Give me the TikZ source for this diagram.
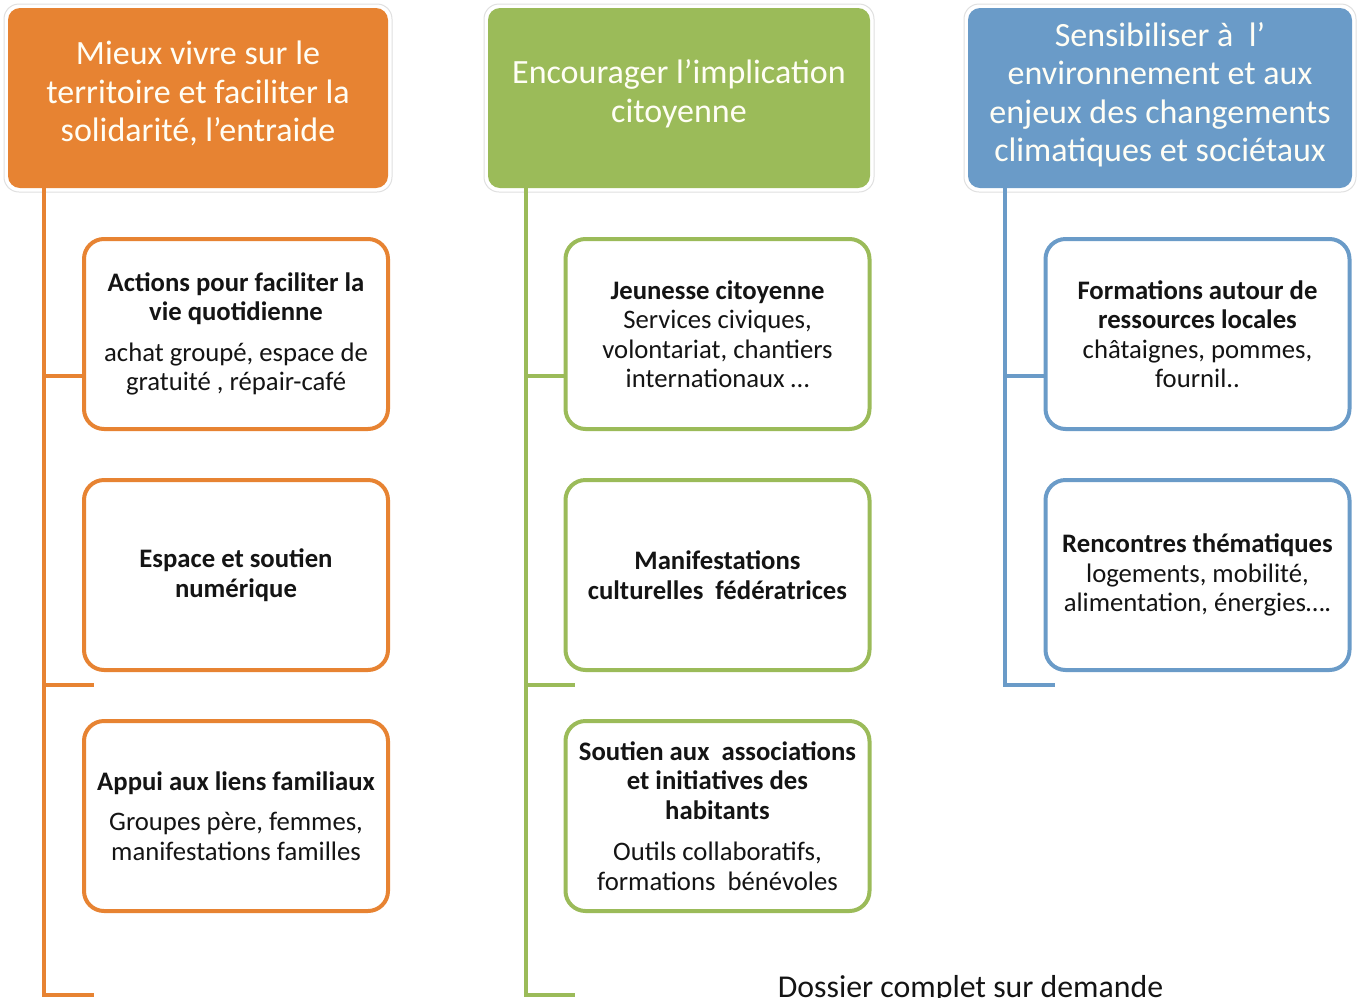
\documentclass[tikz,border=0pt]{standalone}
\usepackage{fontspec}
\setmainfont{Carlito}
\definecolor{corange}{RGB}{231,131,50}
\definecolor{cgreen}{RGB}{155,187,89}
\definecolor{cblue}{RGB}{106,155,200}
\definecolor{ctext}{RGB}{20,20,20}
\begin{document}
\begin{tikzpicture}[x=1pt,y=-1pt,
  headbox/.style={fill=#1, rounded corners=12pt, minimum width=380pt, minimum height=180pt, inner sep=0pt},
  headshadow/.style={draw=black!12, line width=1pt, rounded corners=15pt, fill=white, minimum width=388pt, minimum height=188pt, inner sep=0pt},
  headtext/.style={text=white!96!yellow, align=center, font=\fontsize{34}{38.5}\selectfont, inner sep=0pt},
  childbox/.style={draw=#1, line width=4pt, rounded corners=20pt, fill=white, minimum width=304pt, minimum height=190pt, align=center, inner sep=0pt, text=ctext, font=\fontsize{26.7}{29.5}\selectfont},
  trunk/.style={draw=#1, line width=3.5pt},
  bottomtext/.style={font=\fontsize{31.8}{34}\selectfont, text=ctext, anchor=base, inner sep=0pt}
]
\useasboundingbox (0,0) rectangle (1361,997);

% header shadows
\node[headshadow] (s1) at (198,98) {};
\node[headshadow, minimum width=390pt] (s2) at (679,98) {};
\node[headshadow, minimum width=392pt] (s3) at (1160,98) {};
% headers
\node[headbox=corange] (h1) at (198,98) {};
\node[headbox=cgreen, minimum width=382pt] (h2) at (679,98) {};
\node[headbox=cblue, minimum width=384pt] (h3) at (1160,98) {};
\node[headtext] (h1t) at (198,93.5) {Mieux vivre sur le\\territoire et faciliter la\\solidarité, l’entraide};
\node[headtext] (h2t) at (679,93.5) {Encourager l’implication\\citoyenne};
\node[headtext] (h3t) at (1160,94.5) {Sensibiliser à \ l’\\environnement et aux\\enjeux des changements\\climatiques et sociétaux};

% coordinates for trunks
\coordinate (oEnd) at (44,995);
\coordinate (oJ1) at (44,376);
\coordinate (oJ2) at (44,685);
\coordinate (oS2) at (94,685);
\coordinate (oS3) at (94,995);
\coordinate (gEnd) at (526,995);
\coordinate (gJ1) at (526,376);
\coordinate (gJ2) at (526,685);
\coordinate (gS2) at (575,685);
\coordinate (gS3) at (575,995);
\coordinate (bEnd) at (1005,685);
\coordinate (bJ1) at (1005,376);
\coordinate (bS2) at (1055,685);

% child boxes
\node[childbox=corange] (o1) at (236,334) {\textbf{Actions pour faciliter la}\\\textbf{vie quotidienne}\\[11pt]achat groupé, espace de\\gratuité , répair-café};
\node[childbox=corange] (o2) at (236,575) {\textbf{Espace et soutien}\\\textbf{numérique}};
\node[childbox=corange] (o3) at (236,816) {\textbf{Appui aux liens familiaux}\\[11pt]Groupes père, femmes,\\manifestations familles};

\node[childbox=cgreen] (g1) at (717.5,334) {\textbf{Jeunesse citoyenne}\\Services civiques,\\volontariat, chantiers\\internationaux …};
\node[childbox=cgreen] (g2) at (717.5,575) {\textbf{Manifestations}\\\textbf{culturelles \ fédératrices}};
\node[childbox=cgreen] (g3) at (717.5,816) {\textbf{Soutien aux \ associations}\\\textbf{et initiatives des}\\\textbf{habitants}\\[12pt]Outils collaboratifs,\\formations \ bénévoles};

\node[childbox=cblue] (b1) at (1197.5,334) {\textbf{Formations autour de}\\\textbf{ressources locales}\\châtaignes, pommes,\\fournil..};
\node[childbox=cblue] (b2) at (1197.5,575) {\textbf{Rencontres thématiques}\\logements, mobilité,\\alimentation, énergies….};

% trunks
\draw[trunk=corange] (h1.south -| oEnd) -- (oEnd) -- (oS3);
\draw[trunk=corange] (oJ1) -- (oJ1 -| o1.west);
\draw[trunk=corange] (oJ2) -- (oS2);
\draw[trunk=cgreen] (h2.south -| gEnd) -- (gEnd) -- (gS3);
\draw[trunk=cgreen] (gJ1) -- (gJ1 -| g1.west);
\draw[trunk=cgreen] (gJ2) -- (gS2);
\draw[trunk=cblue] (h3.south -| bEnd) -- (bEnd) -- (bS2);
\draw[trunk=cblue] (bJ1) -- (bJ1 -| b1.west);

\node[bottomtext] (note) at (970.5,997) {Dossier complet sur demande};
\end{tikzpicture}
\end{document}
